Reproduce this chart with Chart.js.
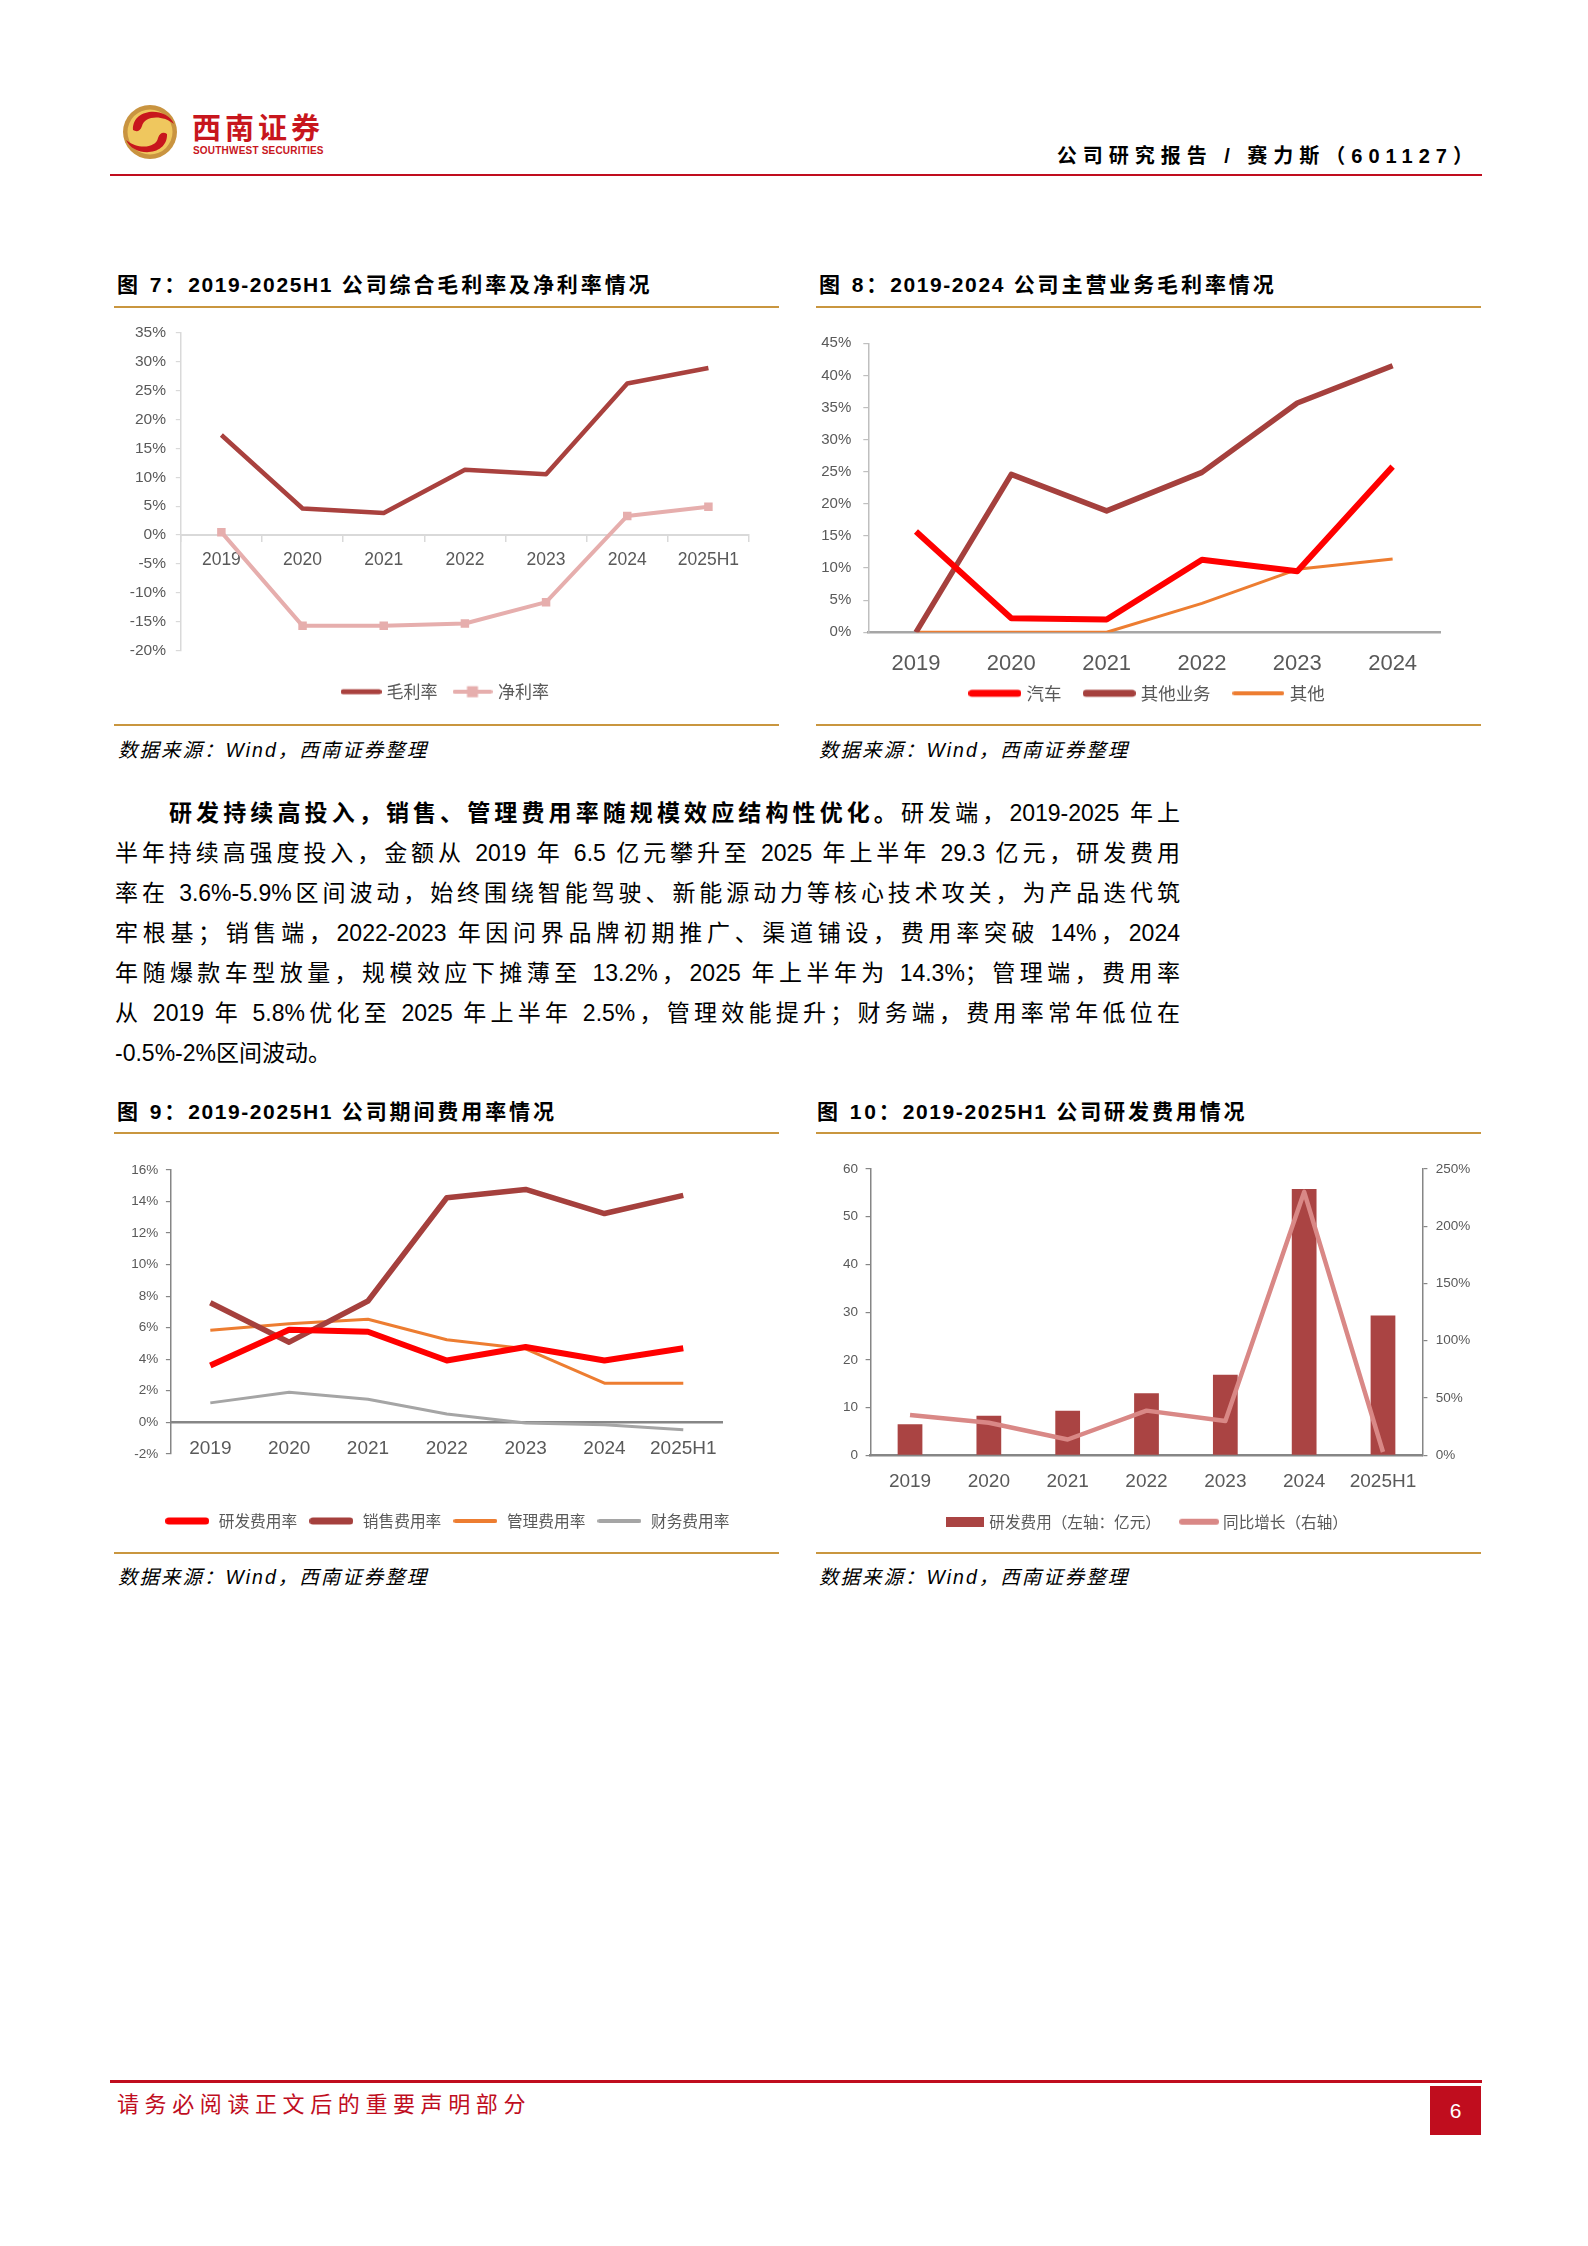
<!DOCTYPE html>
<html>
<head>
<meta charset="utf-8">
<script src="https://cdn.jsdelivr.net/npm/chart.js@4.4.1/dist/chart.umd.min.js"></script>
<style>
html,body{margin:0;padding:0;background:#fff;}
body{width:1588px;height:2246px;position:relative;overflow:hidden;font-family:"Liberation Sans","Noto Sans CJK SC",sans-serif;color:#000;}
.hline{position:absolute;height:2.2px;background:#C9963F;}
.ftitle{position:absolute;font-size:21px;line-height:24px;font-weight:bold;white-space:nowrap;font-family:"Liberation Sans","Noto Sans CJK SC",sans-serif;letter-spacing:2.9px;}
.ftitle .num{letter-spacing:1.6px;}
.src{position:absolute;font-size:19.5px;line-height:24px;font-style:italic;white-space:nowrap;font-family:"Liberation Sans","Noto Sans CJK SC",sans-serif;letter-spacing:2px;}
.para{position:absolute;left:115px;top:793px;width:1065px;font-size:23px;line-height:40px;font-family:"Liberation Sans","Noto Sans CJK SC",sans-serif;}
.para .l{text-align:justify;text-align-last:justify;}
canvas{position:absolute;}
</style>
</head>
<body>

<!-- header -->
<svg style="position:absolute;left:122px;top:104px" width="56" height="56" viewBox="-28 -28 56 56">
  <circle r="27" fill="#C99440"/>
  <circle r="22.5" fill="#EFC75E"/>
  <path d="M -17 -2 C -18 -24, 16 -26, 24 -8 C 12 -18, -6 -16, -8 -6 C -10 0, -14 0, -17 -2 Z" fill="#C8161D"/>
  <path d="M 17 2 C 18 24, -16 26, -24 8 C -12 18, 6 16, 8 6 C 10 0, 14 0, 17 2 Z" fill="#C8161D"/>
</svg>
<div style="position:absolute;left:192px;top:108px;font-size:29px;line-height:36px;font-weight:bold;color:#C8161D;letter-spacing:4px;font-family:'Noto Sans CJK SC';">西南证券</div>
<div style="position:absolute;left:193px;top:145px;font-size:10px;line-height:12px;font-weight:bold;color:#C8161D;letter-spacing:0.2px;font-family:'Liberation Sans';">SOUTHWEST SECURITIES</div>
<div style="position:absolute;right:109px;top:143px;font-size:20px;line-height:26px;font-weight:bold;letter-spacing:6px;white-space:nowrap;font-family:'Liberation Sans','Noto Sans CJK SC';">公司研究报告 / 赛力斯（601127）</div>
<div style="position:absolute;left:110px;top:173.5px;width:1372px;height:2.7px;background:#C00D1E;"></div>

<!-- figure 7 / 8 titles -->
<div class="ftitle" style="left:117px;top:273px">图 7：<span class="num">2019-2025H1</span> 公司综合毛利率及净利率情况</div>
<div class="ftitle" style="left:819px;top:273px">图 8：<span class="num">2019-2024</span> 公司主营业务毛利率情况</div>
<div class="hline" style="left:114px;top:305.7px;width:665px"></div>
<div class="hline" style="left:816px;top:305.7px;width:665px"></div>

<canvas id="c7" width="665" height="405" style="left:114px;top:312px"></canvas>
<canvas id="c8" width="665" height="405" style="left:816px;top:312px"></canvas>

<div class="hline" style="left:114px;top:724px;width:665px"></div>
<div class="hline" style="left:816px;top:724px;width:665px"></div>
<div class="src" style="left:118px;top:738px">数据来源：Wind，西南证券整理</div>
<div class="src" style="left:819px;top:738px">数据来源：Wind，西南证券整理</div>

<!-- body paragraph -->
<div class="para">
  <div class="l" style="padding-left:54px"><b>研发持续高投入，销售、管理费用率随规模效应结构性优化。</b>研发端，2019-2025 年上</div>
  <div class="l">半年持续高强度投入，金额从 2019 年 6.5 亿元攀升至 2025 年上半年 29.3 亿元，研发费用</div>
  <div class="l">率在 3.6%-5.9%区间波动，始终围绕智能驾驶、新能源动力等核心技术攻关，为产品迭代筑</div>
  <div class="l">牢根基；销售端，2022-2023 年因问界品牌初期推广、渠道铺设，费用率突破 14%，2024</div>
  <div class="l">年随爆款车型放量，规模效应下摊薄至 13.2%，2025 年上半年为 14.3%；管理端，费用率</div>
  <div class="l">从 2019 年 5.8%优化至 2025 年上半年 2.5%，管理效能提升；财务端，费用率常年低位在</div>
  <div>-0.5%-2%区间波动。</div>
</div>

<!-- figure 9 / 10 titles -->
<div class="ftitle" style="left:117px;top:1100px">图 9：<span class="num">2019-2025H1</span> 公司期间费用率情况</div>
<div class="ftitle" style="left:817px;top:1100px">图 10：<span class="num">2019-2025H1</span> 公司研发费用情况</div>
<div class="hline" style="left:114px;top:1132.3px;width:665px"></div>
<div class="hline" style="left:816px;top:1132.3px;width:665px"></div>

<canvas id="c9" width="665" height="410" style="left:114px;top:1138px"></canvas>
<canvas id="c10" width="665" height="410" style="left:816px;top:1138px"></canvas>

<div class="hline" style="left:114px;top:1552.3px;width:665px"></div>
<div class="hline" style="left:816px;top:1552.3px;width:665px"></div>
<div class="src" style="left:118px;top:1565px">数据来源：Wind，西南证券整理</div>
<div class="src" style="left:819px;top:1565px">数据来源：Wind，西南证券整理</div>

<!-- footer -->
<div style="position:absolute;left:110px;top:2080px;width:1372px;height:2.5px;background:#C00D1E;"></div>
<div style="position:absolute;left:117px;top:2088px;font-size:22px;line-height:28px;color:#C00D1E;letter-spacing:5.6px;white-space:nowrap;font-family:'Noto Sans CJK SC';">请务必阅读正文后的重要声明部分</div>
<div style="position:absolute;left:1430px;top:2086px;width:51px;height:49px;background:#C00D1E;color:#fff;font-size:21px;line-height:49px;text-align:center;font-family:'Liberation Sans';">6</div>

<script>
// ---- data ----
const years7 = ['2019', '2020', '2021', '2022', '2023', '2024', '2025H1'];
const grossMargin7 = [17.3, 4.6, 3.8, 11.3, 10.5, 26.2, 28.9];
const netMargin7 = [0.5, -15.7, -15.7, -15.3, -11.6, 3.3, 4.9];
const yRange7 = [-20, 35, 5];

const years8 = ['2019', '2020', '2021', '2022', '2023', '2024'];
const autoMargin8 = [15.7, 2.2, 2.0, 11.3, 9.5, 25.8];
const otherBizMargin8 = [0, 24.6, 18.9, 24.9, 35.7, 41.5];
const otherMargin8 = [0, 0, 0, 4.5, 9.8, 11.4];
const yRange8 = [0, 45, 5];

const years9 = ['2019', '2020', '2021', '2022', '2023', '2024', '2025H1'];
const rdRate9 = [3.6, 5.87, 5.74, 3.92, 4.77, 3.92, 4.7];
const salesRate9 = [7.58, 5.08, 7.69, 14.24, 14.77, 13.24, 14.39];
const adminRate9 = [5.83, 6.25, 6.53, 5.23, 4.66, 2.48, 2.48];
const finRate9 = [1.23, 1.91, 1.46, 0.53, -0.04, -0.15, -0.47];
const yRange9 = [-2, 16, 2];

const years10 = ['2019', '2020', '2021', '2022', '2023', '2024', '2025H1'];
const rdExpense10 = [6.5, 8.3, 9.35, 13.0, 16.9, 55.8, 29.3];
const rdGrowth10 = [35.2, 28.4, 13.8, 39.0, 29.9, 230, 2.9];
const yRange10 = [0, 60, 10];
const y1Range10 = [0, 250, 50];

// ---- helpers ----
const SANS = '"Liberation Sans", Arial, sans-serif';
const CJK = '"Noto Sans CJK SC", "Noto Sans", sans-serif';
const GREY = '#595959';

Chart.defaults.animation = false;
Chart.defaults.color = GREY;
Chart.defaults.font.family = SANS;
Chart.defaults.plugins.tooltip.enabled = false;

function lineIcon(color, len, thick, square) {
    const c = document.createElement('canvas');
    c.width = len; c.height = 16;
    const g = c.getContext('2d');
    g.strokeStyle = color; g.lineWidth = thick; g.lineCap = 'round';
    g.beginPath(); g.moveTo(thick / 2, 8); g.lineTo(len - thick / 2, 8); g.stroke();
    if (square) {
        g.fillStyle = color;
        g.fillRect(len / 2 - square / 2, 8 - square / 2, square, square);
    }
    return c;
}
function boxIcon(color, w, h) {
    const c = document.createElement('canvas');
    c.width = w; c.height = h;
    const g = c.getContext('2d');
    g.fillStyle = color; g.fillRect(0, 0, w, h);
    return c;
}
// gapTop = space between plot bottom and the legend row (legend title used as a spacer)
function legendOpts(icons, fs, pad, len, gap, gapTop) {
    return {
        position: 'bottom',
        title: { display: true, text: ' ', font: { size: 1 }, padding: { top: gapTop - 1.2, bottom: 0 } },
        labels: {
            usePointStyle: true,
            pointStyleWidth: len - 2 * (fs / 2 - gap),
            boxHeight: fs,
            padding: pad,
            color: GREY,
            font: { family: CJK, size: fs },
            sort: (a, b) => a.datasetIndex - b.datasetIndex,
            generateLabels: chart => Chart.defaults.plugins.legend.labels.generateLabels(chart)
                .map(item => Object.assign(item, { pointStyle: icons[item.datasetIndex] }))
        }
    };
}
function padAxis(w) {
    return {
        position: 'right', display: true,
        grid: { display: false, drawTicks: false },
        border: { display: false },
        ticks: { display: false },
        afterFit: s => { s.width = w; }
    };
}
function yAxis(range, opts) {
    return {
        min: range[0], max: range[1],
        position: opts.position || 'left',
        ticks: {
            stepSize: range[2],
            callback: v => v + (opts.pct ? '%' : ''),
            font: { size: opts.fs },
            padding: opts.pad,
            color: GREY
        },
        grid: { drawOnChartArea: false, tickLength: 5, color: opts.color, lineWidth: 1.2 },
        border: { color: opts.color, width: opts.bw || 1.5 },
        afterFit: s => { s.width = opts.width; }
    };
}

/* 图7 */
const c7a = '#A9413E', c7b = '#E6AEAD';
new Chart(document.getElementById('c7'), {
    type: 'line',
    data: {
        labels: years7,
        datasets: [
            { label: '毛利率', data: grossMargin7, borderColor: c7a, borderWidth: 4.5, pointRadius: 0, borderJoinStyle: 'round' },
            { label: '净利率', data: netMargin7, borderColor: c7b, backgroundColor: c7b, borderWidth: 4, pointStyle: 'rect', pointRadius: 6, pointBorderWidth: 0, pointBackgroundColor: c7b, borderJoinStyle: 'round' }
        ]
    },
    options: {
        responsive: false,
        layout: { padding: { top: 20.7, bottom: 6.8, left: 0, right: 0 } },
        plugins: { legend: legendOpts([lineIcon(c7a, 41, 5), lineIcon(c7b, 40, 4, 11)], 17, 18, 41, 5, 14.5) },
        scales: {
            x: {
                position: { y: 0 }, offset: true,
                grid: { offset: true, drawOnChartArea: false, tickLength: 6, color: '#d9d9d9', lineWidth: 1.5 },
                border: { color: '#d9d9d9', width: 2 },
                ticks: { font: { size: 17.5 }, padding: 8.8, color: GREY }
            },
            y: yAxis(yRange7, { pct: true, fs: 15.5, pad: 9.8, color: '#d9d9d9', width: 66.8 }),
            yPad: padAxis(30)
        }
    }
});

/* 图8 */
const c8a = '#FF0000', c8b = '#A5403D', c8c = '#ED7D31';
new Chart(document.getElementById('c8'), {
    type: 'line',
    data: {
        labels: years8,
        datasets: [
            { label: '汽车', data: autoMargin8, borderColor: c8a, borderWidth: 6, pointRadius: 0, borderJoinStyle: 'round' },
            { label: '其他业务', data: otherBizMargin8, borderColor: c8b, borderWidth: 5.5, pointRadius: 0, borderJoinStyle: 'round' },
            { label: '其他', data: otherMargin8, borderColor: c8c, borderWidth: 3, pointRadius: 0, borderJoinStyle: 'round' }
        ]
    },
    options: {
        responsive: false,
        layout: { padding: { top: 31.3, bottom: 4.95, left: 0, right: 0 } },
        plugins: { legend: legendOpts([lineIcon(c8a, 53, 7), lineIcon(c8b, 53, 7), lineIcon(c8c, 52, 4)], 17.5, 25, 53, 5, 27.25) },
        scales: {
            x: {
                position: { y: 0 }, offset: true,
                grid: { display: false, drawTicks: false },
                border: { color: '#a6a6a6', width: 2.5 },
                ticks: { font: { size: 22 }, padding: 18.8, color: GREY }
            },
            y: yAxis(yRange8, { pct: true, fs: 15, pad: 12, color: '#bfbfbf', width: 52.3 }),
            yPad: padAxis(40.7)
        }
    }
});

/* 图9 */
const c9a = '#FF0000', c9b = '#A5403D', c9c = '#ED7D31', c9d = '#A5A5A5';
new Chart(document.getElementById('c9'), {
    type: 'line',
    data: {
        labels: years9,
        datasets: [
            { label: '研发费用率', data: rdRate9, borderColor: c9a, borderWidth: 6, pointRadius: 0, borderJoinStyle: 'round' },
            { label: '销售费用率', data: salesRate9, borderColor: c9b, borderWidth: 5.5, pointRadius: 0, borderJoinStyle: 'round' },
            { label: '管理费用率', data: adminRate9, borderColor: c9c, borderWidth: 3, pointRadius: 0, borderJoinStyle: 'round' },
            { label: '财务费用率', data: finRate9, borderColor: c9d, borderWidth: 3, pointRadius: 0, borderJoinStyle: 'round' }
        ]
    },
    options: {
        responsive: false,
        layout: { padding: { top: 32, bottom: 9.15, left: 0, right: 0 } },
        plugins: { legend: legendOpts([lineIcon(c9a, 44, 7), lineIcon(c9b, 44, 7), lineIcon(c9c, 44, 4), lineIcon(c9d, 44, 4)], 15.7, 10.5, 44, 9.5, 48.85) },
        scales: {
            x: {
                position: { y: 0 }, offset: true,
                grid: { display: false, drawTicks: false },
                border: { color: '#868686', width: 2.5 },
                ticks: { font: { size: 19 }, padding: 15.2, color: GREY }
            },
            y: yAxis(yRange9, { pct: true, fs: 13.5, pad: 7.6, color: '#868686', width: 56.9 }),
            yPad: padAxis(56.3)
        }
    }
});

/* 图10 */
const c10a = '#AA4443', c10b = '#D98886';
new Chart(document.getElementById('c10'), {
    data: {
        labels: years10,
        datasets: [
            { type: 'bar', label: '研发费用（左轴：亿元）', data: rdExpense10, backgroundColor: c10a, yAxisID: 'y', barPercentage: 0.314, categoryPercentage: 1, order: 1 },
            { type: 'line', label: '同比增长（右轴）', data: rdGrowth10, borderColor: c10b, borderWidth: 4.5, pointRadius: 0, yAxisID: 'y1', borderJoinStyle: 'round', order: 0 }
        ]
    },
    options: {
        responsive: false,
        layout: { padding: { top: 31, bottom: 8.5, left: 0, right: 0 } },
        plugins: { legend: legendOpts([boxIcon(c10a, 38, 10), lineIcon(c10b, 40, 6)], 15.6, 22, 39, 4.5, 36.6) },
        scales: {
            x: {
                position: { y: 0 }, offset: true,
                grid: { display: false, drawTicks: false },
                border: { color: '#868686', width: 2.5 },
                ticks: { font: { size: 19 }, padding: 14.6, color: GREY }
            },
            y: yAxis(yRange10, { pct: false, fs: 13.5, pad: 7.6, color: '#868686', width: 54.6 }),
            y1: yAxis(y1Range10, { pct: true, fs: 13.5, pad: 8.4, color: '#868686', width: 58.6, position: 'right' })
        }
    }
});
</script>
</body>
</html>
